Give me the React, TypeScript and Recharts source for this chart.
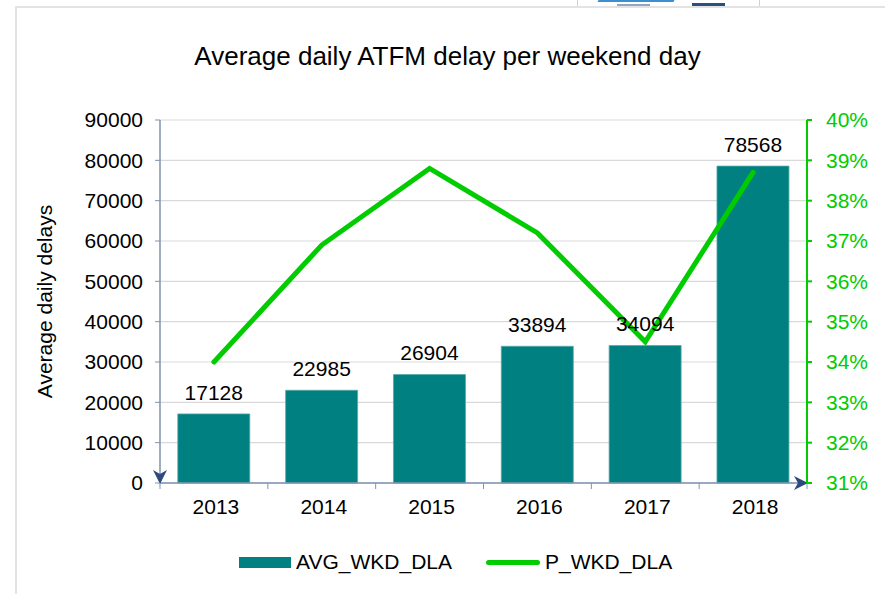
import React from "react";
import {
  ComposedChart,
  Bar,
  Line,
  XAxis,
  YAxis,
  CartesianGrid,
  LabelList,
} from "recharts";

const years = ["2013", "2014", "2015", "2016", "2017", "2018"];
const avgWkdDla = [17128, 22985, 26904, 33894, 34094, 78568];
const pWkdDla = [34.0, 36.9, 38.8, 37.2, 34.5, 38.7];
const leftTicks = [0, 10000, 20000, 30000, 40000, 50000, 60000, 70000, 80000, 90000];
const rightTicks = [31, 32, 33, 34, 35, 36, 37, 38, 39, 40];

const data = years.map((year, i) => ({
  year,
  AVG_WKD_DLA: avgWkdDla[i],
  P_WKD_DLA: pWkdDla[i],
}));

const FONT = "'Liberation Sans', Arial, sans-serif";
const TEAL = "#008080";
const GREEN = "#00cc00";
const AXIS = "#7f93b3";
const NAVY = "#2c4a7c";

// category tick: label plus tick marks on the category boundaries (Excel style)
function YearTick(props: any) {
  const { x, y, payload, index } = props;
  const half = payload.offset ?? 0;
  return (
    <g>
      {index === 0 && <line x1={x - half} x2={x - half} y1={y} y2={y + 6} stroke={AXIS} />}
      <line x1={x + half} x2={x + half} y1={y} y2={y + 6} stroke={AXIS} />
      <text x={x + 2} y={y + 16} dy="0.72em" textAnchor="middle" fill="#000" fontSize={21} fontFamily={FONT}>
        {payload.value}
      </text>
    </g>
  );
}

export default function App() {
  return (
    <div
      style={{
        position: "absolute",
        left: 0,
        top: 0,
        width: 885,
        height: 594,
        background: "#fff",
        fontFamily: FONT,
        overflow: "hidden",
      }}
    >
      {/* page frame bits */}
      <div style={{ position: "absolute", left: 15, top: 6, width: 870, height: 588, borderLeft: "2px solid #e3e3e3", borderTop: "2px solid #e3e3e3" }} />
      <div style={{ position: "absolute", left: 577, top: 0, width: 181, height: 6, borderLeft: "1px solid #d0d0d0", borderRight: "1px solid #d0d0d0" }} />
      <div style={{ position: "absolute", left: 598, top: 0, width: 76, height: 2, background: "#3b8fcf", transform: "skewX(-30deg)" }} />
      <div style={{ position: "absolute", left: 617, top: 4, width: 33, height: 2, background: "#8fa6c4" }} />
      <div style={{ position: "absolute", left: 692, top: 3, width: 33, height: 3, background: "#2a4f7a" }} />

      <div
        style={{
          position: "absolute",
          left: 0,
          top: 41,
          width: 895,
          textAlign: "center",
          fontSize: 26,
          color: "#000",
        }}
      >
        Average daily ATFM delay per weekend day
      </div>

      <ComposedChart
        width={885}
        height={594}
        data={data}
        margin={{ top: 120, right: 0, bottom: 81, left: 40 }}
        barCategoryGap="16.5%"
        style={{ position: "absolute", left: 0, top: 0 }}
      >
        <defs>
          <marker id="arrowHead" viewBox="0 0 14 14" refX="13" refY="7" markerWidth="14" markerHeight="14" markerUnits="userSpaceOnUse" orient="auto">
            <path d="M0,0 L14,7 L0,14 L4,7 Z" fill={NAVY} />
          </marker>
        </defs>
        <CartesianGrid yAxisId="left" vertical={false} stroke="#d9d9d9" strokeWidth={1.2} />
        <XAxis
          dataKey="year"
          height={30}
          tickSize={0}
          tickMargin={0}
          interval={0}
          tickLine={false}
          axisLine={{ stroke: AXIS, strokeWidth: 1.5, markerEnd: "url(#arrowHead)" }}
          tick={<YearTick />}
        />
        <YAxis
          yAxisId="left"
          width={120}
          domain={[0, 90000]}
          ticks={leftTicks}
          interval={0}
          tickSize={5}
          tickMargin={12}
          tickLine={{ stroke: AXIS }}
          axisLine={{ stroke: AXIS, strokeWidth: 1.5, markerEnd: "url(#arrowHead)" }}
          tick={{ fill: "#000", fontSize: 21, fontFamily: FONT }}
          label={{
            value: "Average daily delays",
            angle: -90,
            position: "insideLeft",
            offset: 5,
            style: { textAnchor: "middle", fontSize: 21, fill: "#000", fontFamily: FONT },
          }}
        />
        <YAxis
          yAxisId="right"
          orientation="right"
          width={78}
          domain={[31, 40]}
          ticks={rightTicks}
          interval={0}
          tickSize={5}
          tickMargin={14}
          tickFormatter={(v: number) => `${v}%`}
          tickLine={{ stroke: GREEN, strokeWidth: 2 }}
          axisLine={{ stroke: GREEN, strokeWidth: 2 }}
          tick={{ fill: GREEN, fontSize: 21, fontFamily: FONT }}
        />
        <Bar
          yAxisId="left"
          dataKey="AVG_WKD_DLA"
          fill={TEAL}
          stroke="#5aa8a8"
          strokeWidth={0.8}
          isAnimationActive={false}
        >
          <LabelList dataKey="AVG_WKD_DLA" position="top" offset={14} fill="#000" fontSize={21} fontFamily={FONT} />
        </Bar>
        <Line
          yAxisId="right"
          dataKey="P_WKD_DLA"
          type="linear"
          stroke={GREEN}
          strokeWidth={5}
          strokeLinecap="round"
          dot={false}
          activeDot={false}
          isAnimationActive={false}
        />
      </ComposedChart>

      {/* legend */}
      <div style={{ position: "absolute", left: 239, top: 549, height: 26, display: "flex", alignItems: "center", fontSize: 21, color: "#000" }}>
        <span style={{ display: "inline-block", width: 52, height: 11, background: TEAL, marginRight: 5 }} />
        <span>AVG_WKD_DLA</span>
        <span style={{ display: "inline-block", width: 54, height: 5, borderRadius: 3, background: GREEN, marginLeft: 34, marginRight: 5 }} />
        <span>P_WKD_DLA</span>
      </div>
    </div>
  );
}
